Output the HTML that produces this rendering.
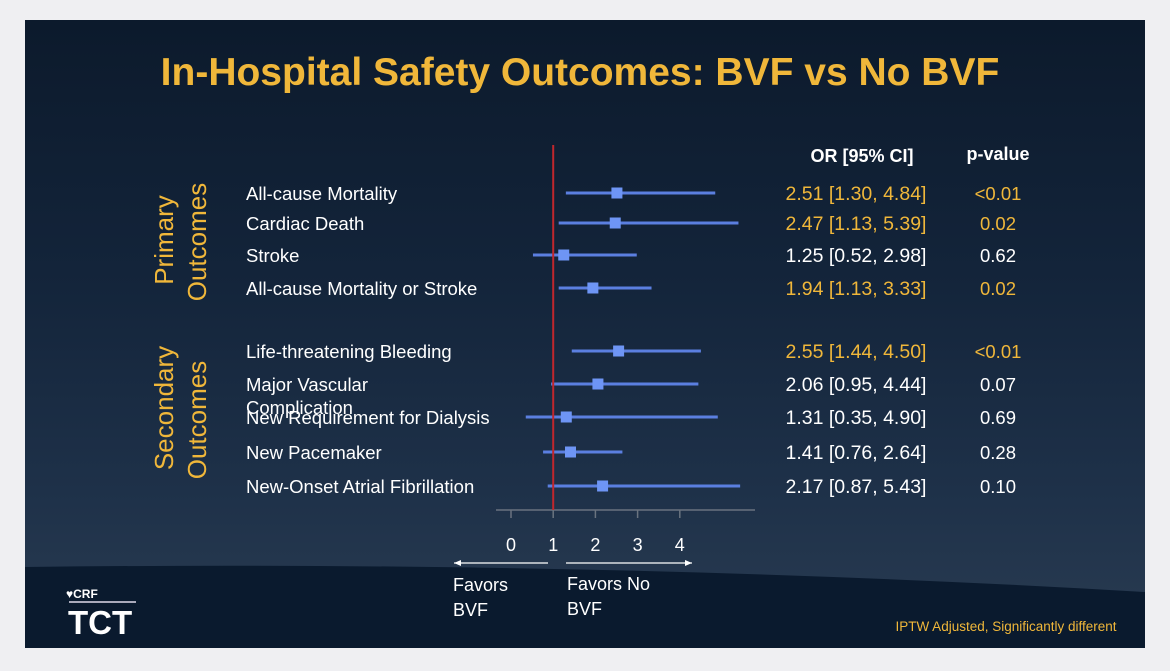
<!DOCTYPE html>
<html><head><meta charset="utf-8"><style>
html,body{margin:0;padding:0;width:1170px;height:671px;background:#efeff2;overflow:hidden;font-family:"Liberation Sans",sans-serif}
#slide{position:absolute;left:25px;top:20px;width:1120px;height:628px;background:linear-gradient(180deg,#0c1a2c 0%,#13243a 40%,#1e3149 75%,#2a3c52 100%);overflow:hidden}
svg{position:absolute;left:0;top:0}
</style></head><body>
<div id="slide"></div>
<svg width="1170" height="671" font-family="Liberation Sans, sans-serif">
<path d="M25 567 Q600 560 1145 592 L1145 648 L25 648 Z" fill="#0a1a2e"/>
<text x="580" y="85" text-anchor="middle" font-size="39" font-weight="bold" fill="#f0b73a">In-Hospital Safety Outcomes: BVF vs No BVF</text>
<text transform="translate(173,240) rotate(-90)" text-anchor="middle" font-size="26" fill="#f0b73a">Primary</text>
<text transform="translate(206,242) rotate(-90)" text-anchor="middle" font-size="26" fill="#f0b73a">Outcomes</text>
<text transform="translate(173,408) rotate(-90)" text-anchor="middle" font-size="26" fill="#f0b73a">Secondary</text>
<text transform="translate(206,420) rotate(-90)" text-anchor="middle" font-size="26" fill="#f0b73a">Outcomes</text>
<text x="862" y="162" text-anchor="middle" font-size="18" font-weight="bold" fill="#fff">OR [95% CI]</text>
<text x="998" y="160" text-anchor="middle" font-size="18" font-weight="bold" fill="#fff">p-value</text>
<g id="marks"></g>
<text x="1006" y="631" text-anchor="middle" font-size="13.5" fill="#f0b73a">IPTW Adjusted, Significantly different</text>
<text x="66" y="598" font-size="12" font-weight="bold" fill="#fff">♥CRF</text>
<rect x="69" y="601" width="67" height="2" fill="#aab"/>
<text x="68" y="634" font-size="33" font-weight="bold" fill="#fff">TCT</text>
</svg>
<script>
const labels=["All-cause Mortality","Cardiac Death","Stroke","All-cause Mortality or Stroke","Life-threatening Bleeding","Major Vascular Complication","New Requirement for Dialysis","New Pacemaker","New-Onset Atrial Fibrillation"];
const orv=[2.51,2.47,1.25,1.94,2.55,2.06,1.31,1.41,2.17];
const lo=[1.30,1.13,0.52,1.13,1.44,0.95,0.35,0.76,0.87];
const hi=[4.84,5.39,2.98,3.33,4.50,4.44,4.90,2.64,5.43];
const pvals=["<0.01","0.02","0.62","0.02","<0.01","0.07","0.69","0.28","0.10"];
const sig=[true,true,false,true,true,false,false,false,false];
const ticks=[0,1,2,3,4];
const rowY=[193,223,255,288,351,384,417,452,486];
const NS="http://www.w3.org/2000/svg";
const g=document.getElementById('marks');
const xs=v=>511+v*42.2;
function mk(t,a){const e=document.createElementNS(NS,t);for(const k in a)e.setAttribute(k,a[k]);g.appendChild(e);return e;}
let ax=mk('line',{x1:496,y1:510,x2:755,y2:510,stroke:'#6a737f','stroke-width':1.5});


ticks.forEach(t=>{
 const l=mk('line',{x1:xs(t),y1:510,x2:xs(t),y2:518,stroke:'#6a737f','stroke-width':1.5});
 
 
 const tx=mk('text',{x:xs(t),y:551,'text-anchor':'middle','font-size':18,fill:'#fff'});
 tx.textContent=t;
 
 
});
labels.forEach((lb,i)=>{
 const y=rowY[i];
 const gold=sig[i]?'#f0b73a':'#fff';
 let t;
 if(i===5){
  t=mk('text',{x:246,y:y+7,'font-size':18.5,fill:'#fff'});t.textContent='Major Vascular';
  
  
  t=mk('text',{x:246,y:y+30,'font-size':18.5,fill:'#fff'});t.textContent='Complication';
 } else {
  t=mk('text',{x:246,y:y+7,'font-size':18.5,fill:'#fff'});t.textContent=lb;
 }
 
 
 const l=mk('line',{x1:xs(lo[i]),y1:y,x2:xs(hi[i]),y2:y,stroke:'#5b7fe0','stroke-width':3});
 
 
 const r=mk('rect',{x:xs(orv[i])-5.5,y:y-5.5,width:11,height:11,fill:'#6e95f5'});
 
 
 const o=mk('text',{x:856,y:y+7,'text-anchor':'middle','font-size':19.5,fill:gold});
 o.textContent=orv[i].toFixed(2)+' ['+lo[i].toFixed(2)+', '+hi[i].toFixed(2)+']';
 
 
 const p=mk('text',{x:998,y:y+7,'text-anchor':'middle','font-size':18.5,fill:gold});
 p.textContent=pvals[i];
 
 
});
const ref=mk('line',{x1:xs(1),y1:145,x2:xs(1),y2:510,stroke:'#c0272d','stroke-width':2});


[[548,454,'left-arrow'],[566,692,'right-arrow']].forEach(a=>{
 const l=mk('line',{x1:a[0],y1:563,x2:a[1],y2:563,stroke:'#fff','stroke-width':1.2});
 
 
 const d=a[1]<a[0]?`M${a[1]} 563 l7 -3 l0 6 Z`:`M${a[1]} 563 l-7 -3 l0 6 Z`;
 const h=mk('path',{d:d,fill:'#fff'});
 
 
});
[[453,591,'Favors'],[453,616,'BVF'],[567,590,'Favors No'],[567,615,'BVF']].forEach(a=>{
 const t=mk('text',{x:a[0],y:a[1],'font-size':18,fill:'#fff'});t.textContent=a[2];
 
 
});
</script>
</body></html>
